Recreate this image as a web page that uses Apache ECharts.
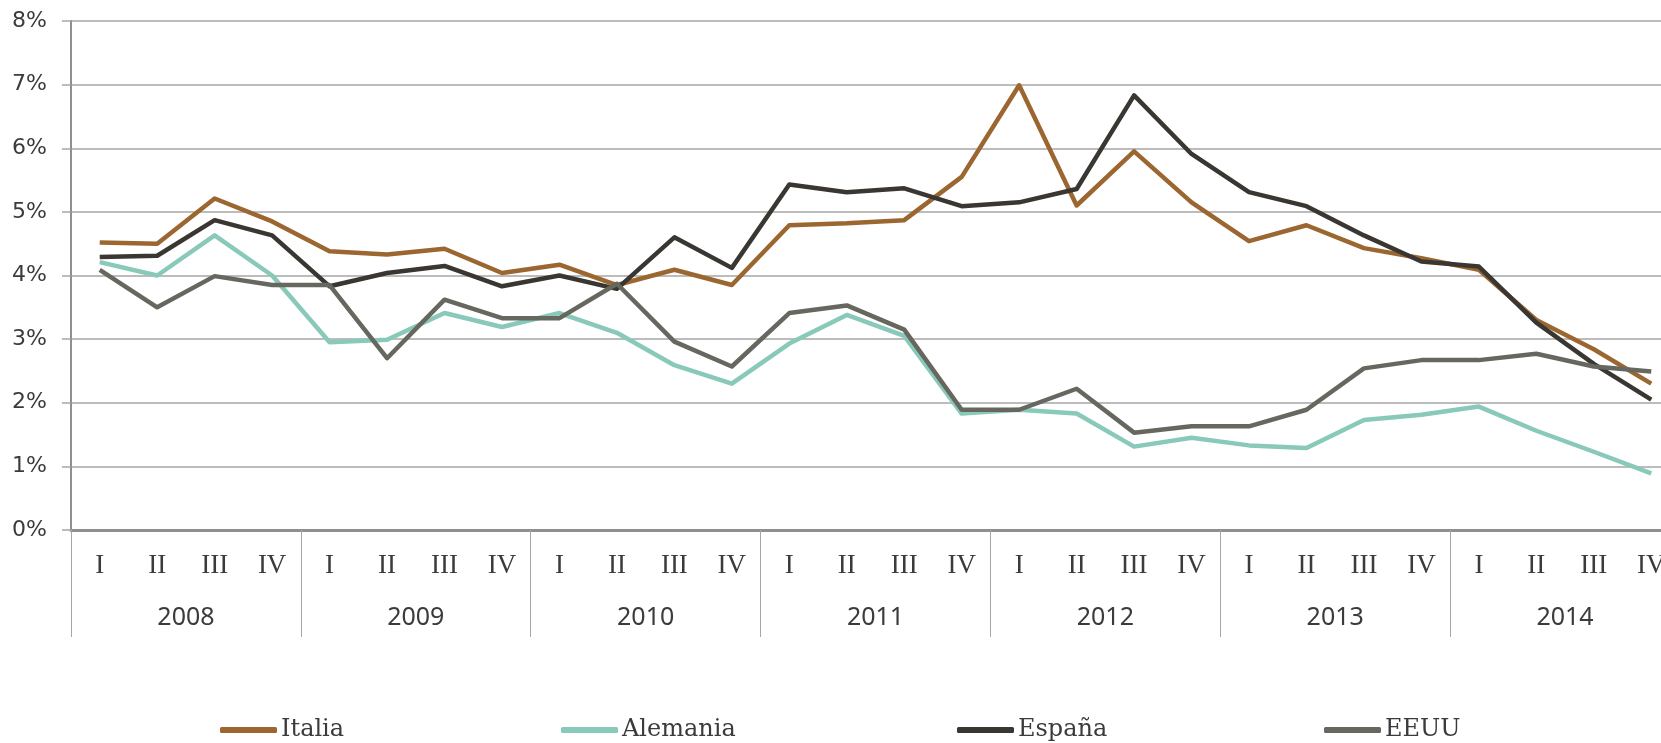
<!DOCTYPE html>
<html>
<head>
<meta charset="utf-8">
<script src="https://cdn.jsdelivr.net/npm/echarts@6/dist/echarts.min.js"></script>
<style>
  html, body { margin: 0; padding: 0; background: #fff; }
  #chart { width: 1661px; height: 743px; }
</style>
</head>
<body>
<div id="chart"></div>
<script>
// trimestres y años
var years = ['2008', '2009', '2010', '2011', '2012', '2013', '2014'];
var quarterNames = ['I', 'II', 'III', 'IV'];
var quarters = [];
for (var y = 0; y < years.length; y++) {
    for (var q = 0; q < quarterNames.length; q++) {
        quarters.push(quarterNames[q]);
    }
}
var yTicks = [0, 1, 2, 3, 4, 5, 6, 7, 8];

// valores (%)
var italia = [4.52, 4.50, 5.21, 4.85, 4.38, 4.33, 4.42, 4.04,
    4.17, 3.85, 4.09, 3.85, 4.79, 4.82, 4.87, 5.55,
    6.99, 5.10, 5.95, 5.15, 4.54, 4.79, 4.43, 4.27,
    4.09, 3.30, 2.84, 2.30];
var alemania = [4.21, 4.00, 4.63, 4.00, 2.95, 2.99, 3.41, 3.19,
    3.41, 3.10, 2.59, 2.30, 2.93, 3.38, 3.05, 1.83,
    1.89, 1.83, 1.31, 1.45, 1.33, 1.29, 1.73, 1.81,
    1.94, 1.56, 1.23, 0.89];
var espana = [4.29, 4.31, 4.87, 4.63, 3.83, 4.04, 4.15, 3.83,
    4.00, 3.79, 4.60, 4.12, 5.43, 5.31, 5.37, 5.09,
    5.15, 5.36, 6.83, 5.91, 5.31, 5.09, 4.63, 4.22,
    4.14, 3.26, 2.61, 2.05];
var eeuu = [4.09, 3.50, 3.99, 3.85, 3.85, 2.70, 3.62, 3.33,
    3.33, 3.87, 2.96, 2.57, 3.41, 3.53, 3.15, 1.89,
    1.89, 2.22, 1.53, 1.63, 1.63, 1.89, 2.54, 2.67,
    2.67, 2.77, 2.57, 2.49];

var seriesNames = ['Italia', 'Alemania', 'España', 'EEUU'];
var seriesData = [italia, alemania, espana, eeuu];
var colors = ['#9c6631', '#88c9ba', '#3a3632', '#66675f'];
var legendLeft = [220, 561, 957, 1324];

var myChart = echarts.init(document.getElementById('chart'));

var series = [];
var legends = [];
for (var i = 0; i < seriesNames.length; i++) {
    series.push({
        name: seriesNames[i],
        type: 'line',
        xAxisIndex: 0,
        yAxisIndex: 0,
        data: seriesData[i],
        symbol: 'none',
        lineStyle: { color: colors[i], width: 4.5, join: 'round' },
        itemStyle: { color: colors[i] },
        animation: false
    });
    legends.push({
        data: [seriesNames[i]],
        left: legendLeft[i],
        top: 718,
        padding: 0,
        icon: 'roundRect',
        itemWidth: 57,
        itemHeight: 6,
        itemGap: 0,
        textStyle: {
            fontFamily: 'DejaVu Serif',
            fontSize: 24,
            color: '#3b3b3b',
            padding: [0, 0, 0, -1]
        }
    });
}

var option = {
    backgroundColor: '#fff',
    animation: false,
    color: colors,
    legend: legends,
    // la rejilla sigue más allá del borde derecho, como en el original
    grid: {
        left: 71, width: 1609, top: 21, bottom: 213,
        containLabel: false,
        outerBoundsMode: 'none'
    },
    xAxis: [
        {
            type: 'category',
            data: quarters,
            boundaryGap: true,
            position: 'bottom',
            axisLine: { show: true, lineStyle: { color: '#8f8f8f', width: 3 } },
            axisTick: { show: false },
            axisLabel: {
                interval: 0,
                margin: 22,
                fontFamily: 'Liberation Serif',
                fontSize: 27,
                color: '#3b3b3b'
            },
            splitLine: { show: false }
        },
        {
            type: 'category',
            data: years,
            boundaryGap: true,
            position: 'bottom',
            axisLine: { show: false },
            axisTick: {
                show: true,
                interval: 0,
                length: 107,
                lineStyle: { color: '#a6a6a6', width: 1 }
            },
            axisLabel: {
                interval: 0,
                margin: 75,
                fontFamily: 'Noto Sans',
                fontSize: 25,
                color: '#3b3b3b'
            },
            splitLine: { show: false }
        }
    ],
    yAxis: {
        type: 'value',
        min: yTicks[0],
        max: yTicks[yTicks.length - 1],
        interval: 1,
        axisLine: { show: true, lineStyle: { color: '#8f8f8f', width: 2 } },
        axisTick: { show: true, length: 9, lineStyle: { color: '#a6a6a6', width: 1.5 } },
        axisLabel: {
            margin: 24,
            fontFamily: 'DejaVu Sans',
            fontSize: 22,
            color: '#3b3b3b',
            formatter: '{value}%'
        },
        splitLine: { show: true, lineStyle: { color: '#a6a6a6', width: 1.5 } }
    },
    series: series
};

myChart.setOption(option);
</script>
</body>
</html>
